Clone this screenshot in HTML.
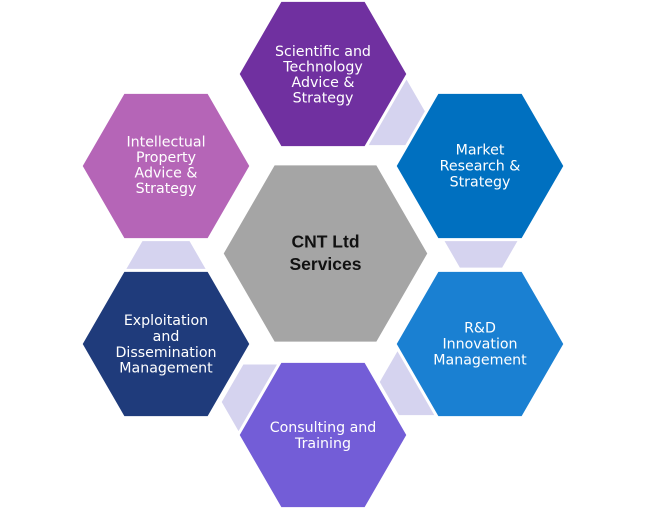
<!DOCTYPE html>
<html>
<head>
<meta charset="utf-8">
<style>
  html, body { margin: 0; padding: 0; background: #ffffff; }
  svg { display: block; }
  .t { font-family: "DejaVu Sans", "Liberation Sans", sans-serif; font-size: 14.2px; fill: #ffffff; text-anchor: middle; }
  .c { font-family: "Liberation Sans", sans-serif; font-size: 17.5px; font-weight: bold; fill: #111111; text-anchor: middle; }
</style>
</head>
<body>
<svg width="645" height="510" viewBox="0 0 645 510" xmlns="http://www.w3.org/2000/svg">
  <rect width="645" height="510" fill="#ffffff"/>
  <g stroke="#ffffff" stroke-width="3" stroke-linejoin="miter">
    <!-- connectors (lavender hexes) -->
    <!-- Sci-Market: c(387,112) r40 h34.6 -->
    <polygon fill="#D5D3EF" points="347,112 367,77.4 407,77.4 427,112 407,146.6 367,146.6"/>
    <!-- Market-R&D: c(481,231) r44 h38.1 -->
    <polygon fill="#D5D3EF" points="437,231 459,192.9 503,192.9 525,231 503,269.1 459,269.1"/>
    <!-- R&D-Consulting: c(418,382) r40 h34.6 -->
    <polygon fill="#D5D3EF" points="378,382 398,347.4 438,347.4 458,382 438,416.6 398,416.6"/>
    <!-- Consulting-Exploitation: c(265,402) r45 h39 -->
    <polygon fill="#D5D3EF" points="220,402 242.5,363 287.5,363 310,402 287.5,441 242.5,441"/>
    <!-- Exploitation-IP: c(166,280.5) r48 h41.6 -->
    <polygon fill="#D5D3EF" points="118,280.5 142,238.9 190,238.9 214,280.5 190,322.1 142,322.1"/>

    <!-- main hexes r85 h73.6 -->
    <!-- Sci c(323,74) -->
    <polygon fill="#7030A0" points="238,74 280.5,0.4 365.5,0.4 408,74 365.5,147.6 280.5,147.6"/>
    <!-- IP c(166,166) -->
    <polygon fill="#B565B7" points="81,166 123.5,92.4 208.5,92.4 251,166 208.5,239.6 123.5,239.6"/>
    <!-- Market c(480,166) -->
    <polygon fill="#0070C0" points="395,166 437.5,92.4 522.5,92.4 565,166 522.5,239.6 437.5,239.6"/>
    <!-- Exploitation c(166,344) -->
    <polygon fill="#1F3B7B" points="81,344 123.5,270.4 208.5,270.4 251,344 208.5,417.6 123.5,417.6"/>
    <!-- R&D c(480,344) -->
    <polygon fill="#1A80D2" points="395,344 437.5,270.4 522.5,270.4 565,344 522.5,417.6 437.5,417.6"/>
    <!-- Consulting c(323,435) -->
    <polygon fill="#735DD7" points="238,435 280.5,361.4 365.5,361.4 408,435 365.5,508.6 280.5,508.6"/>
    <!-- Center c(325.5,253.5) r103.5 h89.6 -->
    <polygon fill="#A5A5A5" points="222,253.5 273.75,163.9 377.25,163.9 429,253.5 377.25,343.1 273.75,343.1"/>
  </g>

  <!-- labels -->
  <text class="t" x="323" y="56">Scientific and</text>
  <text class="t" x="323" y="71.5">Technology</text>
  <text class="t" x="323" y="87">Advice &amp;</text>
  <text class="t" x="323" y="102.5">Strategy</text>

  <text class="t" x="166" y="146.5">Intellectual</text>
  <text class="t" x="166" y="162">Property</text>
  <text class="t" x="166" y="177.5">Advice &amp;</text>
  <text class="t" x="166" y="193">Strategy</text>

  <text class="t" x="480" y="154.5">Market</text>
  <text class="t" x="480" y="170.5">Research &amp;</text>
  <text class="t" x="480" y="186.5">Strategy</text>

  <text class="c" x="325.5" y="247.5">CNT Ltd</text>
  <text class="c" x="325.5" y="270">Services</text>

  <text class="t" x="166" y="325">Exploitation</text>
  <text class="t" x="166" y="341">and</text>
  <text class="t" x="166" y="357">Dissemination</text>
  <text class="t" x="166" y="372.5">Management</text>

  <text class="t" x="480" y="332.7">R&amp;D</text>
  <text class="t" x="480" y="348.7">Innovation</text>
  <text class="t" x="480" y="364.7">Management</text>

  <text class="t" x="323" y="432">Consulting and</text>
  <text class="t" x="323" y="448">Training</text>
</svg>
</body>
</html>
